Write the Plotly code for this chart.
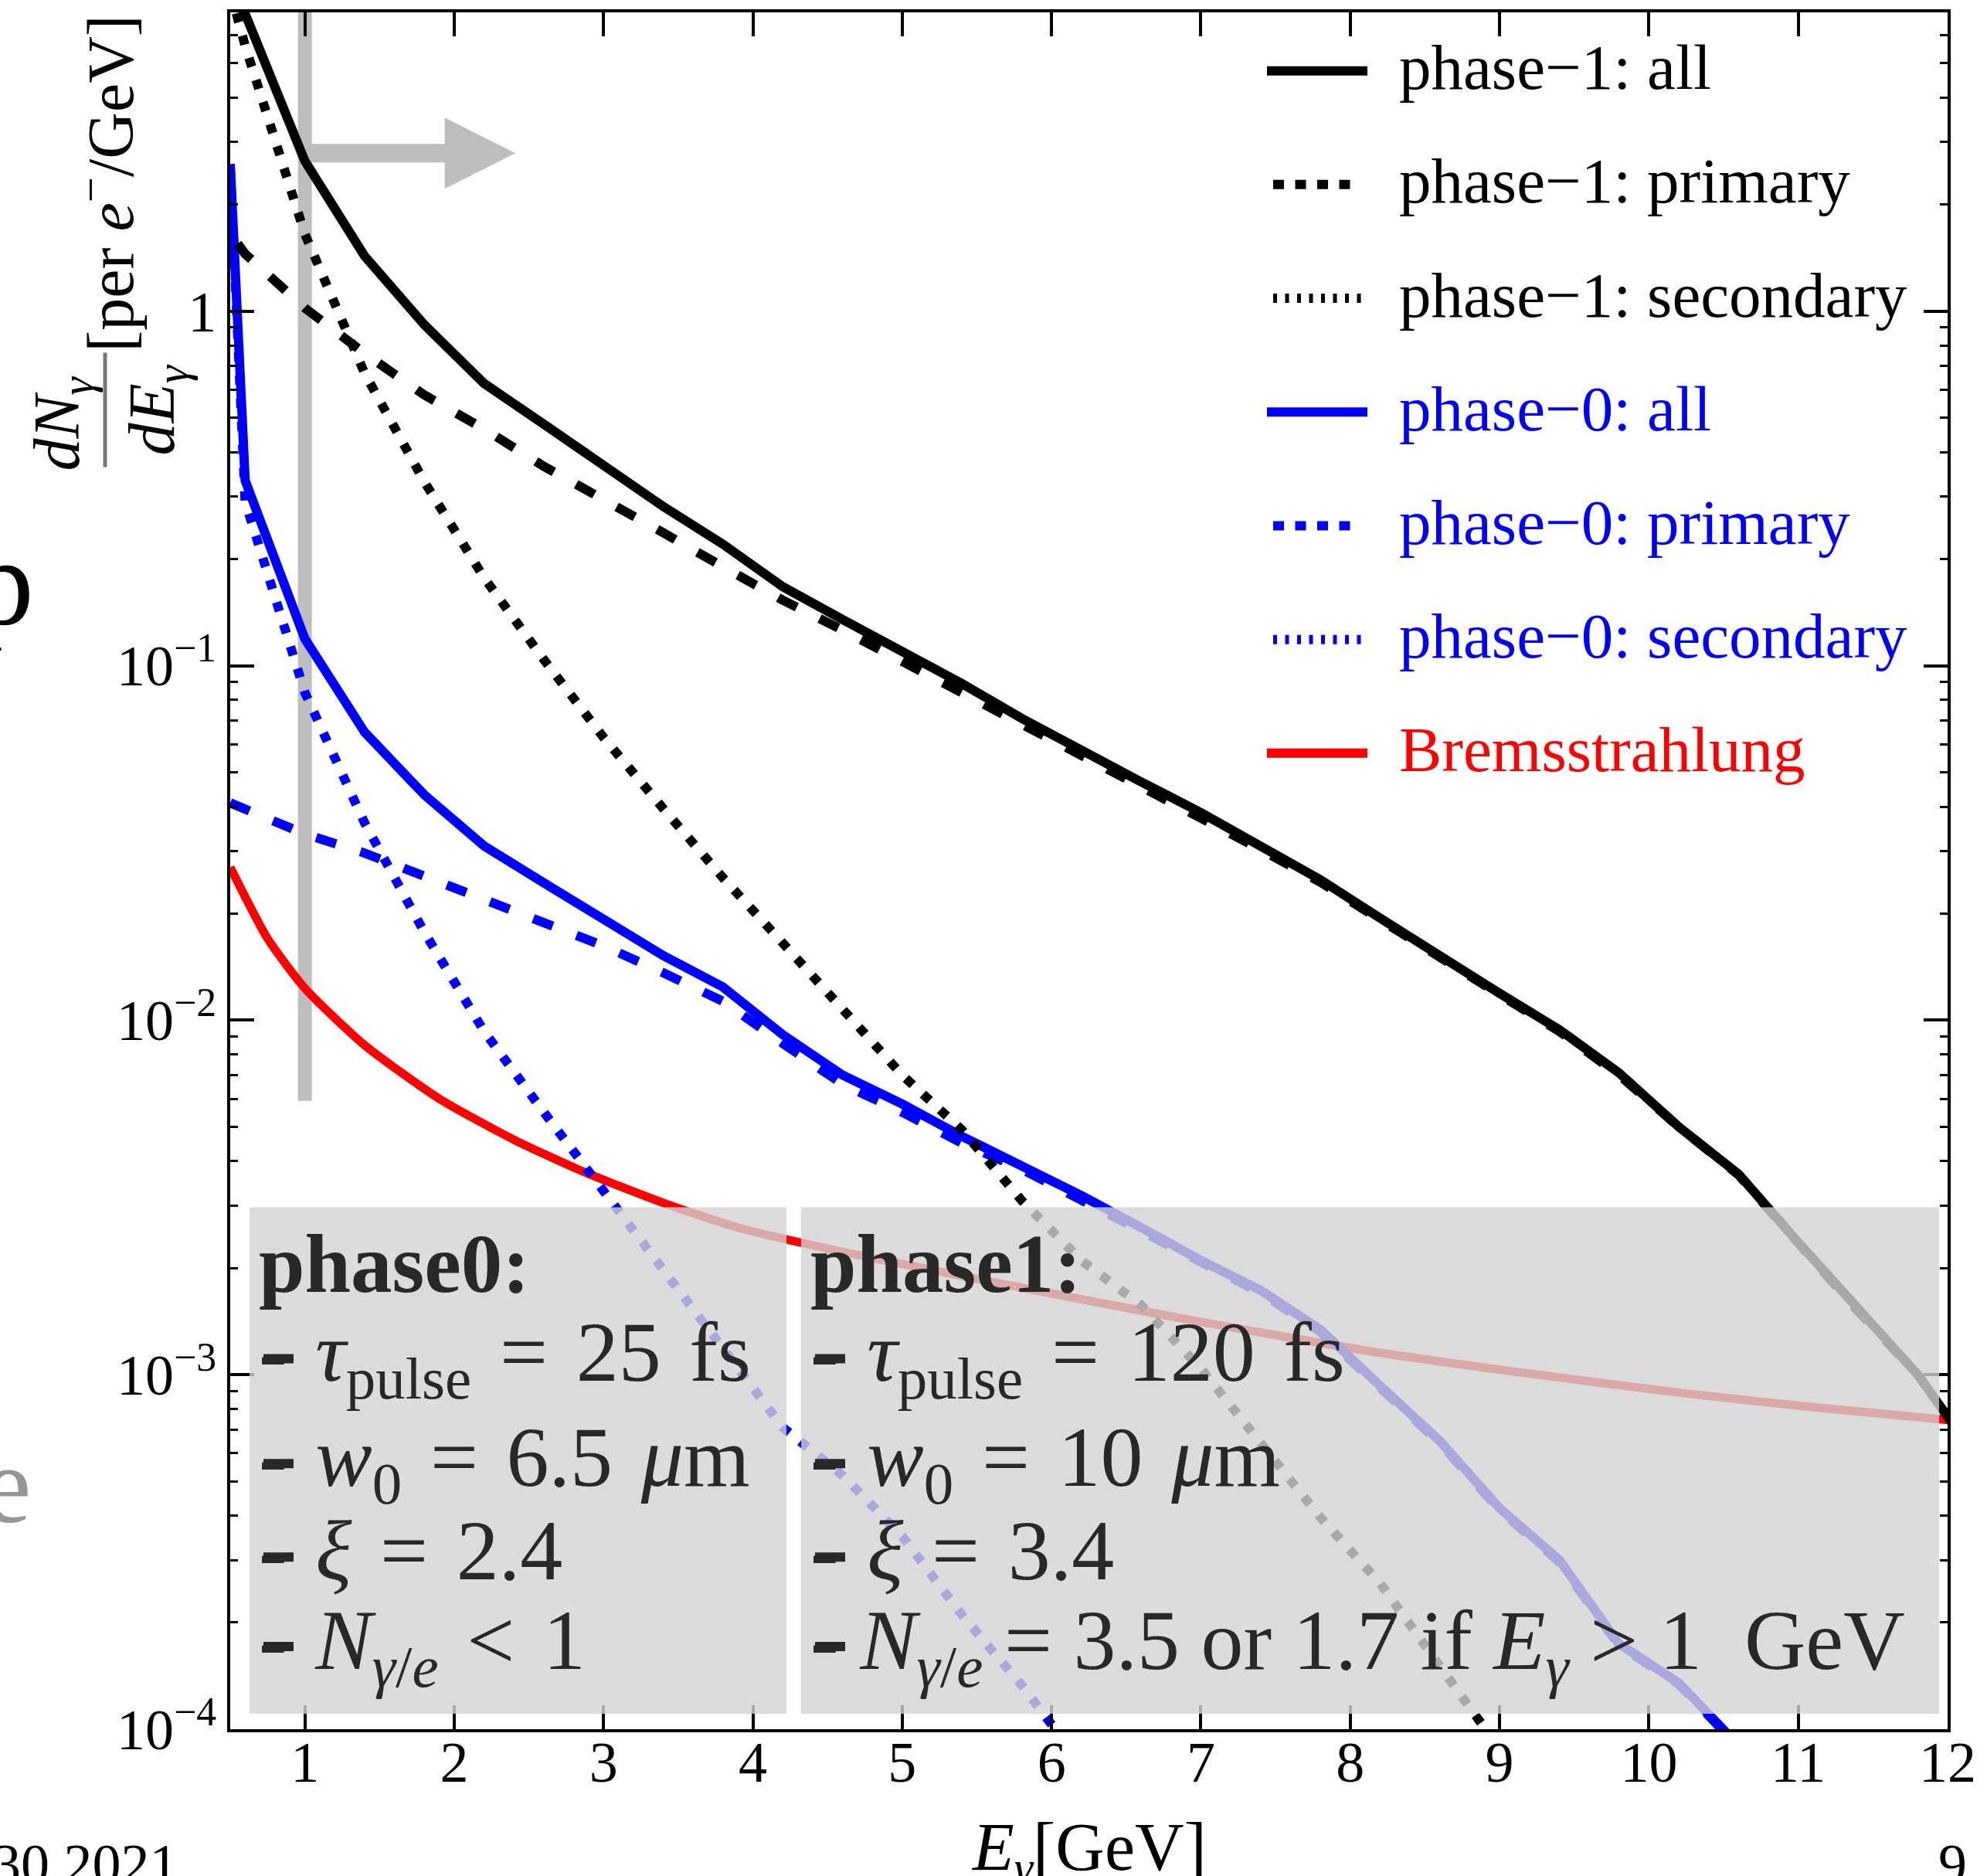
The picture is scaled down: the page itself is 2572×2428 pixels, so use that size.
import plotly.graph_objects as go

# ------------------------------------------------------------------ data
# photon energy E_gamma [GeV] and spectrum dN/dE [per e- / GeV]
E_p1_all = [0.5, 0.6, 1.0, 1.4, 1.8, 2.2, 2.6, 3.0, 3.4, 3.8, 4.2, 4.6, 5.0, 5.4, 5.8,
            6.2, 6.6, 7.0, 7.4, 7.8, 8.2, 8.6, 9.0, 9.4, 9.8, 10.2, 10.6, 11.0, 11.4, 11.8, 12.2]
N_p1_all = [9.5, 6.9, 2.65, 1.43, 0.915, 0.625, 0.48, 0.365, 0.281, 0.22, 0.167, 0.135, 0.11, 0.089, 0.071,
            0.0575, 0.047, 0.0385, 0.031, 0.0249, 0.0194, 0.0151, 0.0119, 0.0094, 0.0071, 0.0050, 0.00368,
            0.00236, 0.00152, 0.0010, 0.00058]

E_p1_prim = [0.55, 0.6, 1.0, 1.4, 1.8, 2.2, 2.6, 3.0, 3.4, 3.8, 4.2, 4.6, 5.0, 5.4, 5.8,
             6.2, 6.6, 7.0, 7.4, 7.8, 8.2, 8.6, 9.0, 9.4, 9.8, 10.2, 10.6, 11.0, 11.4, 11.8, 12.2]
N_p1_prim = [1.55, 1.45, 1.02, 0.76, 0.58, 0.465, 0.365, 0.296, 0.237, 0.19, 0.153, 0.126, 0.103, 0.084, 0.068,
             0.0555, 0.0455, 0.0375, 0.0303, 0.0245, 0.0191, 0.0149, 0.0118, 0.0093, 0.0070, 0.0050, 0.00366,
             0.00235, 0.00151, 0.0010, 0.00058]

E_p1_sec = [0.5, 0.6, 1.0, 1.4, 1.8, 2.2, 2.6, 3.0, 3.4, 3.8, 4.2, 4.6, 5.0, 5.4, 5.8,
            6.2, 6.6, 7.0, 7.4, 7.8, 8.2, 8.6, 9.0]
N_p1_sec = [8.0, 5.6, 1.65, 0.668, 0.33, 0.177, 0.104, 0.0627, 0.0395, 0.0252, 0.0165, 0.0108, 0.0070, 0.0049,
            0.0031, 0.0021, 0.00157, 0.00104, 0.00064, 0.000396, 0.000258, 0.000152, 0.000088]

E_p0_all = [0.5, 0.6, 1.0, 1.4, 1.8, 2.2, 2.6, 3.0, 3.4, 3.8, 4.2, 4.6, 5.0, 5.4, 5.8,
            6.2, 6.6, 7.0, 7.4, 7.8, 8.2, 8.6, 9.0, 9.4, 9.8, 10.2, 10.6]
N_p0_all = [2.6, 0.333, 0.119, 0.0649, 0.0432, 0.031, 0.0244, 0.0193, 0.0152, 0.0124, 0.0091, 0.0070, 0.0058,
            0.0047, 0.0039, 0.0032, 0.0026, 0.0021, 0.00173, 0.00134, 0.00093, 0.00065, 0.00042, 0.0003,
            0.000174, 0.000135, 0.00009]

E_p0_prim = [0.5, 0.6, 1.0, 1.4, 1.8, 2.2, 2.6, 3.0, 3.4, 3.8, 4.2, 4.6, 5.0, 5.4, 5.8,
             6.2, 6.6, 7.0, 7.4, 7.8, 8.2, 8.6, 9.0, 9.4, 9.8, 10.2, 10.6]
N_p0_prim = [0.041, 0.0395, 0.0335, 0.0296, 0.0254, 0.0219, 0.019, 0.0162, 0.0136, 0.0113, 0.0086, 0.0066,
             0.0055, 0.0045, 0.0038, 0.0031, 0.00252, 0.00206, 0.0017, 0.00132, 0.00092, 0.00064, 0.000415,
             0.000296, 0.000172, 0.000134, 0.000089]

E_p0_sec = [0.5, 0.6, 1.0, 1.4, 1.8, 2.2, 2.6, 3.0, 3.4, 3.8, 4.2, 4.6, 5.0, 5.4, 5.8, 6.2]
N_p0_sec = [2.55, 0.29, 0.084, 0.036, 0.0177, 0.0093, 0.0055, 0.0033, 0.00198, 0.00118, 0.00071, 0.00052,
            0.00035, 0.00021, 0.000133, 0.00008]

E_brems = [0.5, 0.75, 1.0, 1.4, 1.9, 2.4, 2.85, 3.4, 3.9, 4.6, 5.45, 6.8, 8.1, 9.1, 10.2, 11.1, 12.0]
N_brems = [0.027, 0.0170, 0.0123, 0.0085, 0.0060, 0.0046, 0.00376, 0.00305, 0.00260, 0.00222, 0.00188,
           0.00146, 0.00117, 0.00102, 0.00089, 0.00081, 0.000745]

X_TICKS = [1, 2, 3, 4, 5, 6, 7, 8, 9, 10, 11, 12]
Y_TICKS = [1e-4, 1e-3, 1e-2, 1e-1, 1]
Y_TICKTEXT = ["10<sup>−4</sup>", "10<sup>−3</sup>", "10<sup>−2</sup>", "10<sup>−1</sup>", "1"]
Y_MINOR = [m * 10.0 ** e for e in range(-4, 1) for m in range(2, 10)]

LEGEND_LABELS = ["phase−1: all", "phase−1: primary", "phase−1: secondary",
                 "phase−0: all", "phase−0: primary", "phase−0: secondary", "Bremsstrahlung"]

SP = "\u2004"  # slightly wider space, as in the original typesetting
BUL = "<b>-</b>"
BOX0_LINES = ["<b>phase0:</b>",
              f"{BUL}{SP}<i>τ</i><sub>pulse</sub>{SP}={SP}25{SP}fs",
              f"{BUL}{SP}<i>w</i><sub>0</sub>{SP}={SP}6.5{SP}<i>μ</i>m",
              f"{BUL}{SP}<i>ξ</i>{SP}={SP}2.4",
              f"{BUL}{SP}<i>N</i><sub><i>γ</i>/<i>e</i></sub>{SP}&lt;{SP}1"]
BOX1_LINES = ["<b>phase1:</b>",
              f"{BUL}{SP}<i>τ</i><sub>pulse</sub>{SP}={SP}120{SP}fs",
              f"{BUL}{SP}<i>w</i><sub>0</sub>{SP}={SP}10{SP}<i>μ</i>m",
              f"{BUL}{SP}<i>ξ</i>{SP}={SP}3.4",
              f"{BUL} <i>N</i><sub><i>γ</i>/<i>e</i></sub> = 3.5 or 1.7 if <i>E</i><sub><i>γ</i></sub> &gt; 1\u2002GeV"]

# ------------------------------------------------------------------ layout geometry (pixels)
FONT = "Liberation Serif"
W, H = 2572, 2428
L, R, T, B = 298, 2521, 14, 2238
BLACK, BLUE, RED = "#000000", "#0000FF", "#FF0000"
GRAY = "rgb(190,190,190)"
LW = 12
DASH = "27px,33px"
DOT = "12px,18px"


def fx(p):
    return (p - L) / (R - L)


def fy(p):
    return (B - p) / (B - T)


fig = go.Figure()

# draw order: bremsstrahlung, phase-0, phase-1
fig.add_trace(go.Scatter(x=E_brems, y=N_brems, mode="lines", name="Bremsstrahlung",
                         line=dict(color=RED, width=11, shape="spline", smoothing=0.6)))
fig.add_trace(go.Scatter(x=E_p0_all, y=N_p0_all, mode="lines", name="phase−0: all",
                         line=dict(color=BLUE, width=LW)))
fig.add_trace(go.Scatter(x=E_p0_prim, y=N_p0_prim, mode="lines", name="phase−0: primary",
                         line=dict(color=BLUE, width=LW, dash=DASH)))
fig.add_trace(go.Scatter(x=E_p0_sec, y=N_p0_sec, mode="lines", name="phase−0: secondary",
                         line=dict(color=BLUE, width=LW, dash=DOT)))
fig.add_trace(go.Scatter(x=E_p1_all, y=N_p1_all, mode="lines", name="phase−1: all",
                         line=dict(color=BLACK, width=LW)))
fig.add_trace(go.Scatter(x=E_p1_prim, y=N_p1_prim, mode="lines", name="phase−1: primary",
                         line=dict(color=BLACK, width=LW, dash=DASH)))
fig.add_trace(go.Scatter(x=E_p1_sec, y=N_p1_sec, mode="lines", name="phase−1: secondary",
                         line=dict(color=BLACK, width=LW, dash=DOT)))

shapes = []
annotations = []

# gray marker at E = 1 GeV with arrow
shapes.append(dict(type="line", xref="x", yref="paper", x0=1, x1=1, y0=fy(1424), y1=1.0,
                   line=dict(color=GRAY, width=18), layer="below"))
ay_c, ay_s, ay_h = fy(196.5), (208 - 184) / 2 / (B - T), (242.7 - 150.6) / 2 / (B - T)
arrow_path = (f"M 1.0,{ay_c - ay_s} L 1.936,{ay_c - ay_s} L 1.936,{ay_c - ay_h} L 2.41,{ay_c} "
              f"L 1.936,{ay_c + ay_h} L 1.936,{ay_c + ay_s} L 1.0,{ay_c + ay_s} Z")
shapes.append(dict(type="path", xref="x", yref="paper", path=arrow_path, fillcolor=GRAY,
                   line=dict(width=0), layer="below"))

# translucent parameter boxes
BOX_FILL = "rgba(211,211,211,0.8)"
for x0, x1 in [(323, 1018), (1037, 2510)]:
    shapes.append(dict(type="rect", xref="paper", yref="paper", x0=fx(x0), x1=fx(x1),
                       y0=fy(2218), y1=fy(1562), fillcolor=BOX_FILL, line=dict(width=0), layer="above"))


def txt(xp, yp, text, size, color=BLACK, xanchor="left", yanchor="middle", angle=0):
    return dict(x=fx(xp), y=fy(yp), xref="paper", yref="paper", text=text, showarrow=False,
                xanchor=xanchor, yanchor=yanchor, textangle=angle, borderpad=0,
                font=dict(family=FONT, size=size, color=color))


# box texts
BOX_BASE = [1672, 1787, 1923, 2044, 2160]
TITLE_FS, LINE_FS = 107, 110
TXT_DARK = "rgb(40,40,40)"
for lines, xl in [(BOX0_LINES, 334), (BOX1_LINES, 1048)]:
    for i, (line, base) in enumerate(zip(lines, BOX_BASE)):
        fs = TITLE_FS if i == 0 else LINE_FS
        k = 0.265 if "<sub>" in line else 0.3375
        annotations.append(txt(xl, base - k * fs, line, fs, TXT_DARK))

# thicker bullet bars in front of the parameter lines (as in the original typesetting)
for xl in (341, 1055):
    for base in BOX_BASE[1:]:
        shapes.append(dict(type="line", xref="paper", yref="paper", x0=fx(xl), x1=fx(xl + 39),
                           y0=fy(base - 29), y1=fy(base - 29), line=dict(color=TXT_DARK, width=12),
                           layer="above"))

# manual legend
LEG_ROWS = [89.8, 237, 384.4, 531.7, 679, 826.4, 973.7]
LEG_COLORS = [BLACK] * 3 + [BLUE] * 3 + [RED]
LEG_STYLE = [("solid", 1640, 1770), ("14px,14.5px", 1648, 1748), ("5px,10.5px", 1648, 1762)] * 2 + \
            [("solid", 1640, 1770)]
LEG_FS = 83
for lab, col, (dash, xa, xb), yr in zip(LEGEND_LABELS, LEG_COLORS, LEG_STYLE, LEG_ROWS):
    shapes.append(dict(type="line", xref="paper", yref="paper", x0=fx(xa), x1=fx(xb), y0=fy(yr), y1=fy(yr),
                       line=dict(color=col, width=12, dash=dash), layer="above"))
    annotations.append(txt(1810, yr - 4.5, lab, LEG_FS, col))

# y-axis title (fraction)
YT_FS = 84
annotations.append(txt(80, 547, "<i>dN</i><sub><i>γ</i></sub>", YT_FS, BLACK, "center", "middle", -90))
annotations.append(txt(203, 529, "<i>dE</i><sub><i>γ</i></sub>", YT_FS, BLACK, "center", "middle", -90))
annotations.append(txt(138, 236, "[per <i>e</i><sup>−</sup>/GeV]", YT_FS, BLACK, "center", "middle", -90))
shapes.append(dict(type="line", xref="paper", yref="paper", x0=fx(136), x1=fx(136), y0=fy(455), y1=fy(603),
                   line=dict(color="#777777", width=5), layer="above"))

# x-axis title
annotations.append(txt(1409, 2397, "<i>E</i><sub><i>γ</i></sub>[GeV]", 88, BLACK, "center", "middle"))

# fragments of the surrounding slide
annotations.append(txt(45, 753, "p", 160, BLACK, "right", "middle"))
annotations.append(txt(42, 1922, "e", 141, "rgb(150,150,150)", "right", "middle"))
annotations.append(txt(232, 2413, "30 2021", 74, BLACK, "right", "middle"))
annotations.append(txt(2508, 2413, "9", 74, BLACK, "left", "middle"))

axis_common = dict(ticks="inside", ticklen=31, tickwidth=4, tickcolor=BLACK, showline=True, linewidth=4,
                   linecolor=BLACK, mirror="ticks", showgrid=False, zeroline=False,
                   tickfont=dict(family=FONT, size=74, color=BLACK))

fig.update_layout(
    width=W, height=H, autosize=False,
    margin=dict(l=L, r=W - R, t=T, b=H - B, pad=0),
    paper_bgcolor="white", plot_bgcolor="white",
    showlegend=False,
    font=dict(family=FONT, color=BLACK),
    xaxis=dict(range=[0.5, 12], tickmode="array", tickvals=X_TICKS, ticktext=[str(v) for v in X_TICKS],
               ticklabelstandoff=-25, **axis_common),
    yaxis=dict(type="log", range=[-4, 0.8427], tickmode="array", tickvals=Y_TICKS, ticktext=Y_TICKTEXT,
               ticklabelstandoff=-1,
               minor=dict(tickmode="array", tickvals=Y_MINOR, ticks="inside", ticklen=10, tickwidth=3,
                          tickcolor=BLACK, showgrid=False),
               **axis_common),
    shapes=shapes,
    annotations=annotations,
)

fig.write_html("out.html")
